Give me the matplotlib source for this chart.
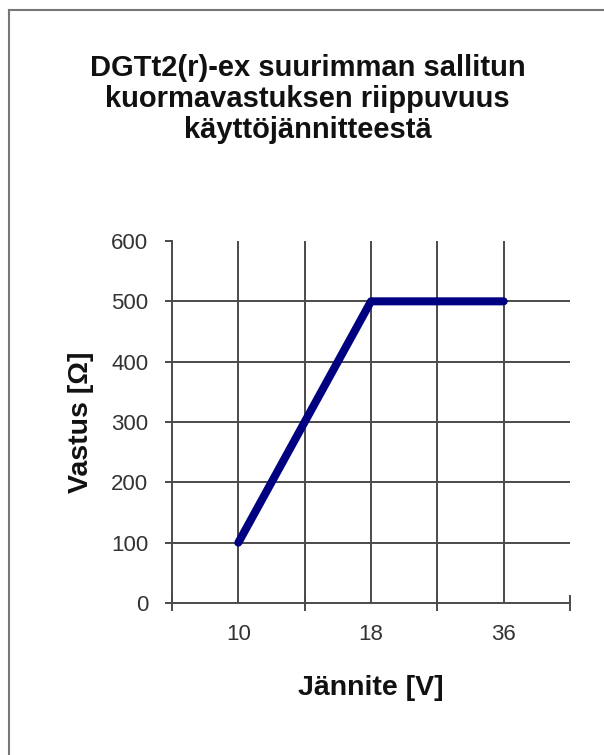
import matplotlib.pyplot as plt
from matplotlib.ticker import FixedLocator, NullFormatter
import matplotlib.lines as mlines

# Data
jannite = ["10", "18", "36"]
vastus = [100, 500, 500]

plt.rcParams['font.family'] = ['Liberation Sans', 'DejaVu Sans']

fig = plt.figure(figsize=(6.04, 7.55), dpi=100)
ax = fig.add_axes([172 / 604, 152 / 755, 398 / 604, 362 / 755])

x = [i + 0.5 for i in range(len(jannite))]
ax.plot(x, vastus, color='#000080', linewidth=5.8, solid_capstyle='round',
        solid_joinstyle='round', zorder=3)

ax.set_xlim(0, len(jannite))
ax.set_ylim(0, 600)

grid_col = '#4a4a4a'
# pystysuorat apuviivat luokkien keskellä ja rajoilla
for gx in [0.5, 1, 1.5, 2, 2.5]:
    ax.axvline(gx, color=grid_col, linewidth=1.4, zorder=1)
for gy in range(100, 600, 100):
    ax.axhline(gy, color=grid_col, linewidth=1.4, zorder=1)

ax.xaxis.set_major_locator(FixedLocator([0, 1, 2, 3]))
ax.xaxis.set_major_formatter(NullFormatter())
ax.xaxis.set_minor_locator(FixedLocator(x))
ax.set_xticklabels(jannite, minor=True)
ax.tick_params(axis='x', which='minor', length=0, pad=15, labelsize=16, labelcolor='#333333')
ax.tick_params(axis='x', which='major', direction='inout', length=11, width=1.4, color=grid_col)

ax.set_yticks(range(0, 700, 100))
ax.tick_params(axis='y', direction='out', length=5, width=1.4, color=grid_col,
               labelsize=16, labelcolor='#333333', pad=12)

for side in ['top', 'right']:
    ax.spines[side].set_visible(False)
for side in ['left', 'bottom']:
    ax.spines[side].set_color(grid_col)
    ax.spines[side].set_linewidth(1.4)

ax.set_xlabel("Jännite [V]", fontsize=20.5, fontweight='bold', labelpad=22, color='#111111')
ax.set_ylabel("Vastus [Ω]", fontsize=20.5, fontweight='bold', labelpad=12, color='#111111')

fig.text(0.509, 0.929, "DGTt2(r)-ex suurimman sallitun\nkuormavastuksen riippuvuus\nkäyttöjännitteestä",
         ha='center', va='top', fontsize=21, fontweight='bold', linespacing=1.15, color='#111111')

# kehys: vain ylä- ja vasen reuna näkyvät
fig.add_artist(mlines.Line2D([9 / 604, 9 / 604], [0, 1 - 10 / 755],
                             transform=fig.transFigure, color='#777777', linewidth=1.5))
fig.add_artist(mlines.Line2D([9 / 604, 1], [1 - 10 / 755, 1 - 10 / 755],
                             transform=fig.transFigure, color='#777777', linewidth=1.5))

fig.savefig("out.png", dpi=100)
